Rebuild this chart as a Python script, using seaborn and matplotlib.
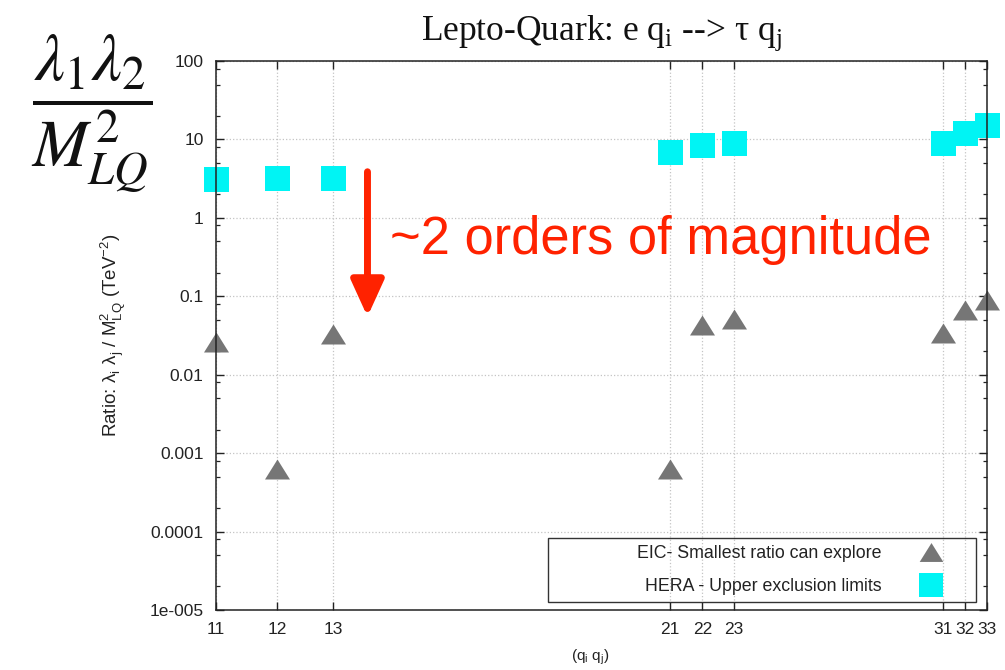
import matplotlib
matplotlib.use("Agg")
import matplotlib.pyplot as plt
import seaborn as sns
import pandas as pd
from matplotlib.lines import Line2D
from matplotlib.patches import Rectangle
from matplotlib.ticker import FixedLocator, NullLocator, LogLocator, NullFormatter

# ---- data ----
pairs = [11, 12, 13, 21, 22, 23, 31, 32, 33]
pair_labels = ["11", "12", "13", "21", "22", "23", "31", "32", "33"]
hera_limits = [3.1, 3.2, 3.2, 7.0, 8.5, 9.1, 9.1, 12.1, 15.3]
eic_reach = [0.026, 0.00063, 0.033, 0.00063, 0.043, 0.051, 0.034, 0.066, 0.089]
y_ticks = [1e-5, 1e-4, 1e-3, 1e-2, 1e-1, 1, 10, 100]
y_tick_labels = ["1e-005", "0.0001", "0.001", "0.01", "0.1", "1", "10", "100"]
series_names = ["EIC- Smallest ratio can explore", "HERA - Upper exclusion limits"]

sns.set_style("ticks")
plt.rcParams["font.family"] = ["Liberation Sans", "DejaVu Sans"]

CYAN = "#00f4f4"
GRAY = "#767676"
RED = "#ff2200"
TRI = [(-1, -0.8), (1, -0.8), (0, 0.8)]

df = pd.DataFrame({"pair": pairs, "hera": hera_limits, "eic": eic_reach})

fig = plt.figure(figsize=(10.05, 6.7), dpi=100)
ax = fig.add_axes([216 / 1005, 1 - 610 / 670, 771 / 1005, 549 / 670])
ax.set_xscale("log")
ax.set_yscale("log")

sns.scatterplot(data=df, x="pair", y="hera", marker="s", s=324, color=CYAN,
                linewidth=0, ax=ax, clip_on=False, zorder=1)
sns.scatterplot(data=df, x="pair", y="eic", marker=TRI, s=324, color=GRAY,
                linewidth=0, ax=ax, clip_on=False, zorder=1)

ax.set_xlim(11, 33)
ax.set_ylim(1e-5, 100)

ax.xaxis.set_major_locator(FixedLocator(pairs))
ax.xaxis.set_minor_locator(NullLocator())
ax.set_xticklabels(pair_labels)
ax.xaxis.set_minor_formatter(NullFormatter())
ax.yaxis.set_major_locator(FixedLocator(y_ticks))
ax.set_yticklabels(y_tick_labels)
ax.yaxis.set_minor_locator(LogLocator(base=10, subs=(2, 5, 8), numticks=20))
ax.yaxis.set_minor_formatter(NullFormatter())

ax.tick_params(which="both", direction="in", top=True, right=True, color="#222222",
               labelsize=12.5, labelcolor="#222222")
ax.tick_params(which="major", length=6, width=1)
ax.tick_params(which="minor", length=3, width=0.9)
ax.tick_params(axis="y", pad=9)
ax.tick_params(axis="x", pad=9)
for sp in ax.spines.values():
    sp.set_visible(True)
    sp.set_linewidth(1.1)
    sp.set_color("#222222")

ax.grid(True, which="major", linestyle=":", color="#c4c4c4", linewidth=0.9)

ax.set_xlabel("(q$_\\mathregular{i}$ q$_\\mathregular{j}$)", fontsize=11, color="#222222")
ax.xaxis.set_label_coords(0.485, -0.069)
ax.set_ylabel("Ratio: λ$_\\mathregular{i}$ λ$_\\mathregular{j}$ / M$_\\mathregular{LQ}^\\mathregular{2}$ (TeV$^\\mathregular{-2}$)",
              fontsize=13.5, color="#222222")
ax.yaxis.set_label_coords(-0.1145, 0.5)

ax.set_title("Lepto-Quark: e q$_\\mathregular{i}$ --> τ q$_\\mathregular{j}$",
             fontsize=25.5, family=["Liberation Serif", "DejaVu Serif"], pad=15, color="#111111")

# legend
handles = [
    Line2D([], [], linestyle="none", marker=TRI, markersize=17, color=GRAY, markeredgewidth=0),
    Line2D([], [], linestyle="none", marker="s", markersize=17, color=CYAN, markeredgewidth=0),
]
ax.legend(handles, series_names, loc="center right", bbox_to_anchor=(0.951, 0.073),
          frameon=False, markerfirst=False, fontsize=12.8, handlelength=2.0,
          handletextpad=1.8, labelspacing=0.9, borderpad=0, borderaxespad=0,
          labelcolor="#222222")
ax.add_patch(Rectangle((0.431, 0.0146), 0.555, 0.1164, transform=ax.transAxes,
                       fill=False, edgecolor="#333333", linewidth=1.0, zorder=3))

# annotation arrow and text
ax.annotate("", xy=(13.65, 0.055), xytext=(13.65, 3.87),
            arrowprops=dict(arrowstyle="-|>,head_width=1.0,head_length=2.2", mutation_scale=10,
                            lw=5, color=RED, shrinkA=0, shrinkB=0))
fig.text(390 / 1005, 1 - 240 / 670, "~2 orders of magnitude", color=RED, fontsize=37.8,
         ha="left", va="center")

# big fraction
fig.text(92 / 1005, 1 - 113 / 670, r"$\dfrac{\lambda_1\lambda_2}{M_{LQ}^2}$", fontsize=48,
         ha="center", va="center", math_fontfamily="stix", color="#111111")

fig.savefig("out.png", dpi=100)
